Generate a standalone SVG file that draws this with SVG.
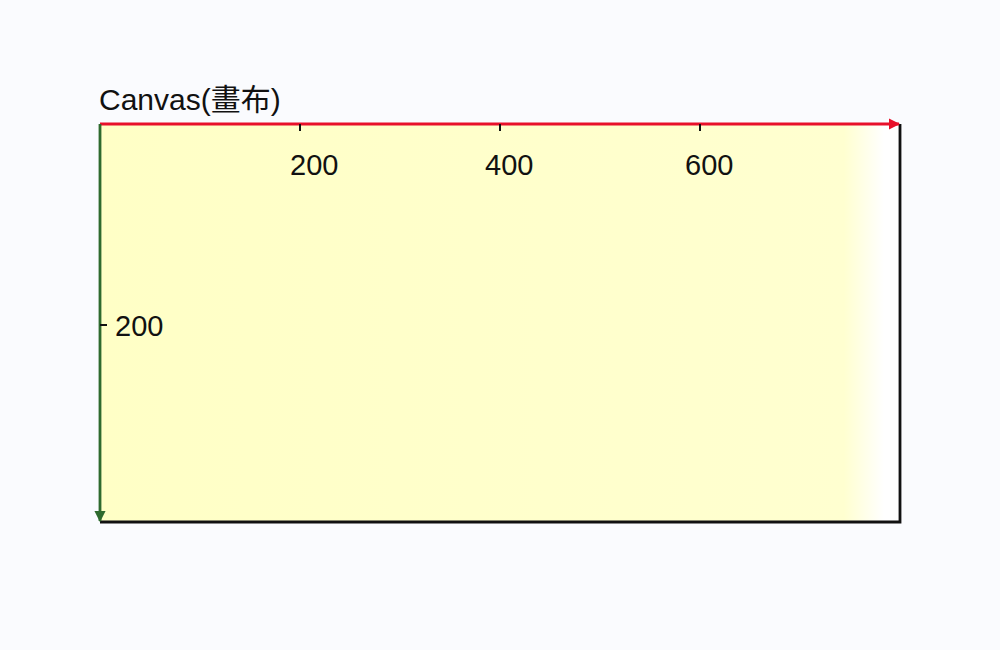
<svg xmlns="http://www.w3.org/2000/svg" width="1000" height="650" viewBox="0 0 1000 650">
<style>
text{font-family:"Liberation Sans","Noto Sans CJK TC",sans-serif;fill:#111}
.lbl{font-size:29px}
.ttl{font-size:30px}
.tick{stroke:#111;stroke-width:2}
</style>
<defs>
<linearGradient id="fillg" x1="0" y1="0" x2="1" y2="0">
<stop offset="0" stop-color="#ffffc6"/>
<stop offset="0.93" stop-color="#ffffd0"/>
<stop offset="0.98" stop-color="#ffffff"/>
<stop offset="1" stop-color="#ffffff"/>
</linearGradient>
<marker id="arR" viewBox="0 0 10 10" refX="9" refY="5" markerWidth="4" markerHeight="4" orient="auto"><path d="M0,0 L10,5 L0,10 z" fill="#e8102a"/></marker>
<marker id="arG" viewBox="0 0 10 10" refX="9" refY="5" markerWidth="4" markerHeight="4" orient="auto"><path d="M0,0 L10,5 L0,10 z" fill="#2e6a2e"/></marker>
</defs>
<rect width="1000" height="650" fill="#fafbfe"/>
<g id="canvas">
<rect x="100" y="124" width="800" height="398" fill="url(#fillg)"/>
<path d="M900,124 V522 H100" fill="none" stroke="#111" stroke-width="2.8"/>
<text x="99" y="110" class="ttl">Canvas(畫布)</text>
</g>
<g id="connectors">
<line x1="100" y1="124" x2="899" y2="124" stroke="#e8102a" stroke-width="2.8" marker-end="url(#arR)"/>
<line x1="100" y1="124" x2="100" y2="521" stroke="#2e6a2e" stroke-width="2.8" marker-end="url(#arG)"/>
</g>
<g id="ticks">
<line class="tick" x1="300" y1="124" x2="300" y2="131"/>
<line class="tick" x1="500" y1="124" x2="500" y2="131"/>
<line class="tick" x1="700" y1="124" x2="700" y2="131"/>
<line class="tick" x1="100" y1="325" x2="107" y2="325"/>
<text x="290" y="175" class="lbl">200</text>
<text x="485" y="175" class="lbl">400</text>
<text x="685" y="175" class="lbl">600</text>
<text x="115" y="336" class="lbl">200</text>
</g>
</svg>
